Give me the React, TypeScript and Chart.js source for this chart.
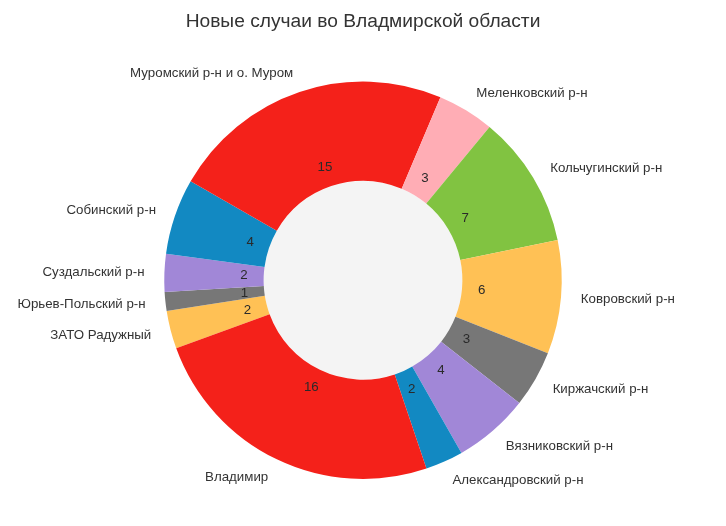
import React, { useEffect, useRef } from "react";
import { Chart, registerables } from "chart.js";

Chart.register(...registerables);

const TITLE = "Новые случаи во Владмирской области";
const districts = [
  "ЗАТО Радужный",
  "Юрьев-Польский р-н",
  "Суздальский р-н",
  "Собинский р-н",
  "Муромский р-н и о. Муром",
  "Меленковский р-н",
  "Кольчугинский р-н",
  "Ковровский р-н",
  "Киржачский р-н",
  "Вязниковский р-н",
  "Александровский р-н",
  "Владимир",
];
const newCases = [2, 1, 2, 4, 15, 3, 7, 6, 3, 4, 2, 16];
const sliceColors = [
  "#FFC155",
  "#777777",
  "#A187D7",
  "#1289C2",
  "#F4211A",
  "#FFADB5",
  "#81C341",
  "#FFC155",
  "#777777",
  "#A187D7",
  "#1289C2",
  "#F4211A",
];

const FONT = "'Liberation Sans', Arial, sans-serif";

const pieLabels = {
  id: "pieLabels",
  beforeDatasetsDraw(chart: any) {
    const meta = chart.getDatasetMeta(0);
    const arc = meta.data[0];
    if (!arc) return;
    const ctx = chart.ctx;
    ctx.save();
    ctx.fillStyle = "#F4F4F4";
    ctx.beginPath();
    ctx.arc(arc.x, arc.y, arc.innerRadius, 0, Math.PI * 2);
    ctx.fill();
    ctx.restore();
  },
  afterDatasetsDraw(chart: any) {
    const meta = chart.getDatasetMeta(0);
    const ds = chart.data.datasets[0];
    const labels = chart.data.labels;
    const ctx = chart.ctx;
    ctx.save();
    ctx.textBaseline = "middle";
    meta.data.forEach((a: any, i: number) => {
      const mid = (a.startAngle + a.endAngle) / 2;
      const R = a.outerRadius;
      const cx = a.x;
      const cy = a.y;
      ctx.font = `13.3px ${FONT}`;
      ctx.fillStyle = "#2a2a2a";
      ctx.textAlign = "center";
      ctx.fillText(String(ds.data[i]), cx + Math.cos(mid) * R * 0.6, cy + Math.sin(mid) * R * 0.6);
      const lx = cx + Math.cos(mid) * R * 1.1;
      const ly = cy + Math.sin(mid) * R * 1.1;
      ctx.fillStyle = "#333333";
      ctx.textAlign = lx > cx ? "left" : "right";
      ctx.fillText(labels[i], lx, ly + 0.5);
    });
    ctx.restore();
  },
};

export default function App() {
  const ref = useRef<HTMLCanvasElement>(null);
  useEffect(() => {
    if (!ref.current) return;
    const chart = new Chart(ref.current, {
      type: "doughnut",
      data: {
        labels: districts,
        datasets: [
          {
            data: newCases,
            backgroundColor: sliceColors,
            borderWidth: 0,
            hoverOffset: 0,
          },
        ],
      },
      options: {
        animation: false,
        responsive: true,
        maintainAspectRatio: false,
        rotation: 250,
        cutout: "50%",
        layout: { padding: { top: 10, bottom: 47, left: 164.25, right: 164.25 } },
        plugins: {
          legend: { display: false },
          tooltip: { enabled: false },
          title: {
            display: true,
            text: TITLE,
            color: "#333333",
            font: { family: FONT, size: 19.2, weight: "normal" },
            padding: { top: 0, bottom: 48.46 },
          },
        },
      },
      plugins: [pieLabels],
    });
    return () => chart.destroy();
  }, []);
  return (
    <div style={{ position: "absolute", left: 0, top: 0, width: 726, height: 526, background: "#fff" }}>
      <canvas ref={ref} />
    </div>
  );
}
